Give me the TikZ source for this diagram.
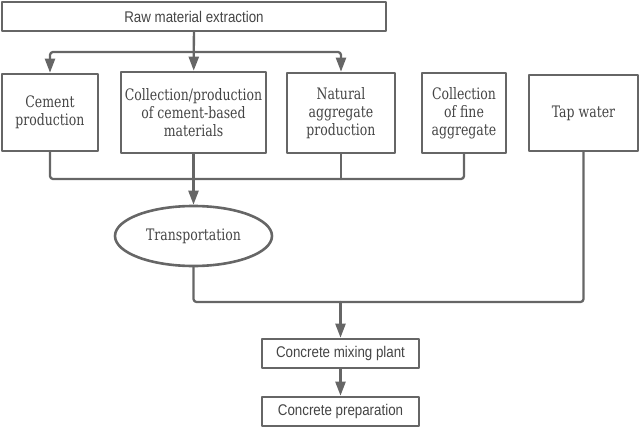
\documentclass[tikz,border=0pt]{standalone}
\usepackage{fontspec}
\usetikzlibrary{arrows.meta,shapes.geometric}
\newfontfamily\serifnt[FakeStretch=0.79]{DejaVu Serif}
\newfontfamily\sansfnt[FakeStretch=0.86]{Liberation Sans}
\definecolor{linegray}{HTML}{666666}
\definecolor{textgray}{HTML}{444444}
\begin{document}
\begin{tikzpicture}[x=1pt, y=-1pt, line join=round, line cap=round, >={Triangle[width=10pt,length=14pt]},
	box/.style={draw=linegray, line width=2.6pt, inner sep=0pt, align=center, text=textgray},
	sbox/.style={box, font=\sansfnt\fontsize{15.5}{18}\selectfont},
	tbox/.style={box, font=\serifnt\fontsize{15.8}{18}\selectfont},
	oval/.style={tbox, ellipse},
	link/.style={draw=linegray, line width=2.3pt, rounded corners=3pt}]
	\useasboundingbox (0,0) rectangle (640,428);
	\node[sbox, minimum width=384pt, minimum height=29pt] (raw) at (194,16.5) {Raw material extraction};
	\node[tbox, minimum width=96pt, minimum height=77pt] (cem) at (50,112.5) {Cement\\production};
	\node[tbox, minimum width=145pt, minimum height=81pt] (coll) at (193.5,112.5) {Collection/production\\of cement-based\\materials};
	\node[tbox, minimum width=108pt, minimum height=80pt] (nat) at (341,113) {Natural\\aggregate\\production};
	\node[tbox, minimum width=84pt, minimum height=80pt] (fine) at (464,113) {Collection\\of fine\\aggregate};
	\node[tbox, minimum width=109pt, minimum height=76pt] (tap) at (583.5,113) {Tap water};
	\node[oval, minimum width=157pt, minimum height=60pt] (trans) at (193.5,236) {Transportation};
	\node[sbox, minimum width=157pt, minimum height=29pt] (mix) at (340.5,353.5) {Concrete mixing plant};
	\node[sbox, minimum width=157pt, minimum height=29pt] (prep) at (340.5,411.5) {Concrete preparation};
	% junctions
	\coordinate (split) at (193.5,52);
	\coordinate (join) at (193.5,179);
	\coordinate (feed) at (340.5,302);
	\draw[link,->] (raw) -- (coll);
	\draw[link,->] (split) -| (cem);
	\draw[link,->] (split) -| (nat);
	\draw[link] (cem) |- (join);
	\draw[link] (fine) |- (join);
	\draw[link] (nat) -- (nat |- join);
	\draw[link,->] (coll) -- (trans);
	\draw[link] (trans) |- (feed);
	\draw[link] (tap) |- (feed);
	\draw[link,->] (feed) -- (mix);
	\draw[link,->] (mix) -- (prep);
\end{tikzpicture}
\end{document}
